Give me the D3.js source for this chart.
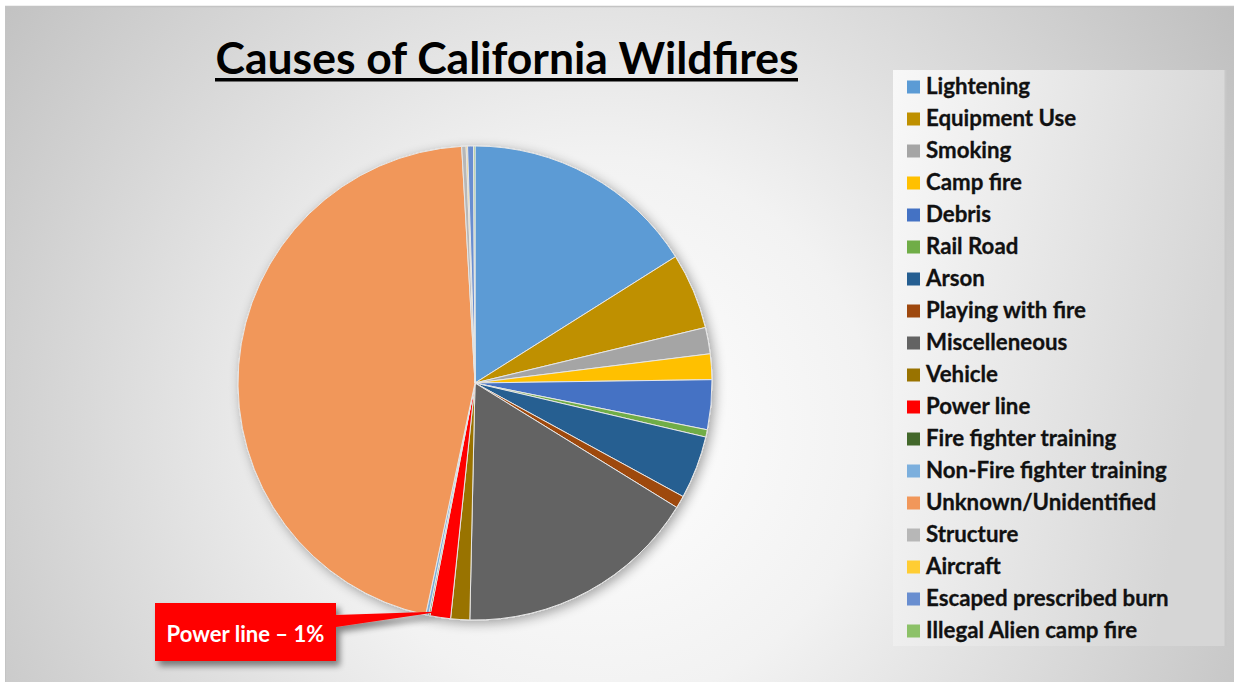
<!DOCTYPE html>
<html>
<head>
<meta charset="utf-8">
<script src="https://cdn.jsdelivr.net/npm/d3@7"></script>
<style>
html,body{margin:0;padding:0;background:#fff;}
svg{display:block;}
</style>
</head>
<body>
<svg id="chart" width="1234" height="682"></svg>
<script>
const categories = ["Lightening","Equipment Use","Smoking","Camp fire","Debris","Rail Road","Arson","Playing with fire","Miscelleneous","Vehicle","Power line","Fire fighter training","Non-Fire fighter training","Unknown/Unidentified","Structure","Aircraft","Escaped prescribed burn","Illegal Alien camp fire"];
const values = [16.1,5.2,1.8,1.75,3.4,0.5,4.3,0.85,16.6,1.3,1.4,0.1,0.2,45.9,0.3,0.1,0.4,0.1];
const colors = ["#5B9BD5","#BF9000","#A5A5A5","#FFC000","#4472C4","#70AD47","#255E91","#9E480E","#636363","#997300","#FF0000","#43682B","#7CAFDD","#F1975A","#B7B7B7","#FFCD33","#698ED0","#8CC168"];
const title = "Causes of California Wildfires";
const calloutLabel = "Power line \u2013 1%";
const calloutCategory = "Power line";

const svg = d3.select("#chart");
const W = 1234, H = 682;
const defs = svg.append("defs");

const bg = defs.append("radialGradient").attr("id","bg")
  .attr("gradientUnits","userSpaceOnUse").attr("cx",600).attr("cy",430).attr("r",780);
bg.append("stop").attr("offset","0").attr("stop-color","#ffffff");
bg.append("stop").attr("offset","0.35").attr("stop-color","#f2f2f2");
bg.append("stop").attr("offset","1").attr("stop-color","#bdbdbd");

const lg = defs.append("linearGradient").attr("id","lg").attr("x1","0").attr("x2","1").attr("y1","0").attr("y2","0.3");
lg.append("stop").attr("offset","0").attr("stop-color","#f8f8f8");
lg.append("stop").attr("offset","1").attr("stop-color","#d6d6d6");

const sh = defs.append("filter").attr("id","shadow").attr("x","-20%").attr("y","-20%").attr("width","140%").attr("height","140%");
sh.append("feGaussianBlur").attr("in","SourceAlpha").attr("stdDeviation",6).attr("result","b");
sh.append("feOffset").attr("in","b").attr("dx",3).attr("dy",3).attr("result","o");
sh.append("feComponentTransfer").attr("in","o").attr("result","o2")
  .append("feFuncA").attr("type","linear").attr("slope",0.35);
const m = sh.append("feMerge");
m.append("feMergeNode").attr("in","o2");
m.append("feMergeNode").attr("in","SourceGraphic");

const sh2 = defs.append("filter").attr("id","shadow2").attr("x","-20%").attr("y","-20%").attr("width","140%").attr("height","150%");
sh2.append("feGaussianBlur").attr("in","SourceAlpha").attr("stdDeviation",3).attr("result","b");
sh2.append("feOffset").attr("in","b").attr("dx",4).attr("dy",5).attr("result","o");
sh2.append("feComponentTransfer").attr("in","o").attr("result","o2")
  .append("feFuncA").attr("type","linear").attr("slope",0.45);
const m2 = sh2.append("feMerge");
m2.append("feMergeNode").attr("in","o2");
m2.append("feMergeNode").attr("in","SourceGraphic");

// background panel
svg.append("rect").attr("x",5).attr("y",6).attr("width",W-5).attr("height",H-6).attr("fill","url(#bg)");
svg.append("line").attr("x1",5).attr("x2",W).attr("y1",6.5).attr("y2",6.5).attr("stroke","#c4c4c4").attr("stroke-width",1.5);
svg.append("line").attr("x1",5.5).attr("x2",5.5).attr("y1",6).attr("y2",H).attr("stroke","#c4c4c4").attr("stroke-width",1);

// title
const tt = svg.append("text").attr("x",507).attr("y",74).attr("text-anchor","middle")
  .attr("font-family","Lato, 'Open Sans', sans-serif").attr("font-weight","bold").attr("font-size",40)
  .attr("fill","#000").text(title);
let tw = tt.node().getComputedTextLength();
tt.attr("font-size", 40*583/tw);
svg.append("rect").attr("x",215).attr("y",78).attr("width",583).attr("height",3.5).attr("fill","#000");

// pie
const cx = 475, cy = 383, R = 237;
const data = categories.map((c,i)=>({cat:c, value:values[i], color:colors[i]}));
const pie = d3.pie().value(d=>d.value).sort(null);
const arcs = pie(data);
const arc = d3.arc().innerRadius(0).outerRadius(R);
const g = svg.append("g").attr("transform",`translate(${cx},${cy})`);
const pg = g.append("g").attr("filter","url(#shadow)");
pg.selectAll("path").data(arcs).join("path")
  .attr("d",arc).attr("fill",d=>d.data.color)
  .attr("stroke","#e6e6e6").attr("stroke-width",1).attr("stroke-linejoin","round");

// legend
const lx = 893, ly = 70, lw = 332, lh = 576;
svg.append("rect").attr("x",lx).attr("y",ly).attr("width",lw).attr("height",lh).attr("fill","url(#lg)");
svg.append("line").attr("x1",lx+lw+0.5).attr("x2",lx+lw+0.5).attr("y1",ly).attr("y2",ly+lh).attr("stroke","#c8c8c8").attr("stroke-width",2);
const ys = d3.scalePoint().domain(categories).range([87,631]);
const leg = svg.append("g");
const items = leg.selectAll("g").data(data).join("g").attr("transform",d=>`translate(907,${ys(d.cat)})`);
items.append("rect").attr("x",0).attr("y",-6.5).attr("width",13).attr("height",13).attr("fill",d=>d.color);
const lt = items.append("text").attr("x",19).attr("y",7)
  .attr("font-family","Lato, 'Open Sans', sans-serif").attr("font-weight","bold").attr("font-size",20)
  .attr("fill","#111").attr("stroke","#111").attr("stroke-width",0.3).text(d=>d.cat);
const ref = lt.filter(d=>d.cat==="Non-Fire fighter training").node().getComputedTextLength();
lt.attr("font-size", 20*241/ref);

// callout
const pa = arcs.find(a=>a.data.cat===calloutCategory);
const mid = (pa.startAngle+pa.endAngle)/2;
const tipR = R-6;
const tip = [cx + tipR*Math.sin(mid), cy - tipR*Math.cos(mid)];
const bx0 = 155, by0 = 603, bx1 = 336, by1 = 661;
const path = d3.path();
path.moveTo(bx0,by0); path.lineTo(bx1,by0); path.lineTo(bx1,615);
path.lineTo(tip[0],tip[1]); path.lineTo(bx1,627); path.lineTo(bx1,by1); path.lineTo(bx0,by1); path.closePath();
svg.append("path").attr("d",path.toString()).attr("fill","#FF0000").attr("filter","url(#shadow2)");
const ct = svg.append("text").attr("x",(bx0+bx1)/2).attr("y",642).attr("text-anchor","middle")
  .attr("font-family","Lato, 'Open Sans', sans-serif").attr("font-weight","bold").attr("font-size",19)
  .attr("fill","#fff").text(calloutLabel);
const cw = ct.node().getComputedTextLength();
ct.attr("font-size", 19*158/cw);
</script>
</body>
</html>
